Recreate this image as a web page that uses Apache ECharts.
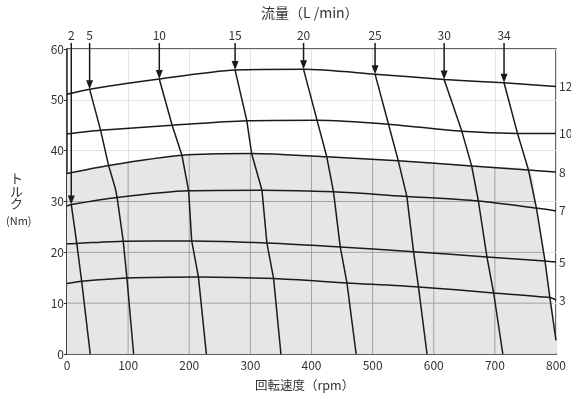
<!DOCTYPE html>
<html>
<head>
<meta charset="utf-8">
<script src="https://cdn.jsdelivr.net/npm/echarts@6/dist/echarts.min.js"></script>
<style>
  html, body { margin: 0; padding: 0; background: #fff; }
  #chart { width: 571px; height: 400px; }
</style>
</head>
<body>
<div id="chart"></div>
<script>
// Torque (Nm) vs. speed (rpm) for each pressure line
const p12 = [[0,51.1],[37,52.1],[151,54.1],[275,55.85],[387,56.0],[504,55.05],[617,54.0],[715,53.35],[800,52.6]];
const p10 = [[0,43.3],[55,44.0],[172,45.0],[294,45.9],[409,46.0],[526,45.2],[646,43.8],[737,43.4],[800,43.4]];
const p8  = [[0,35.5],[68,37.1],[188,39.1],[302,39.45],[425,38.8],[542,38.0],[662,37.0],[755,36.2],[800,35.8]];
const p7  = [[0,29.1],[7,29.4],[82,30.8],[199,32.1],[319,32.2],[436,31.9],[556,31.0],[673,30.1],[768,28.7],[800,28.15]];
const p5  = [[0,21.7],[16,21.75],[92,22.2],[204,22.25],[327,21.85],[447,21.06],[567,20.1],[687,19.1],[782,18.3],[800,18.1]];
const p3  = [[0,13.85],[24,14.3],[98,14.96],[215,15.16],[338,14.84],[458,13.98],[575,13.2],[698,12.0],[790,11.1],[800,10.6]];
const pressureLabels = ['12', '10', '8', '7', '5', '3'];

// Constant-flow lines, from the top pressure line down to zero torque
const f2  = [[7,29.4],[16,21.75],[24,14.3],[38,0]];
const f5  = [[37,52.1],[55,44.0],[68,37.1],[79,32.6],[82,30.8],[92,22.2],[98,14.96],[109,0]];
const f10 = [[151,54.1],[172,45.0],[188,39.1],[199,32.1],[204,22.25],[215,15.16],[228,0]];
const f15 = [[275,55.85],[294,46.0],[302,39.45],[319,32.2],[327,21.85],[338,14.84],[350,0]];
const f20 = [[387,56.0],[409,46.0],[425,38.8],[436,31.9],[447,21.06],[458,14.0],[473,0]];
const f25 = [[504,55.05],[526,45.2],[542,38.0],[556,31.0],[567,20.1],[575,13.2],[589,0]];
const f30 = [[617,54.0],[646,43.8],[662,37.0],[673,30.1],[687,19.1],[698,12.0],[713,0]];
const f34 = [[715,53.35],[737,43.4],[755,36.2],[768,28.7],[782,18.3],[790,11.1],[800,2.7]];
const flowLabels = ['2', '5', '10', '15', '20', '25', '30', '34'];

const xTicks = [0, 100, 200, 300, 400, 500, 600, 700, 800];
const yTicks = [0, 10, 20, 30, 40, 50, 60];

const FONT = '"Noto Sans CJK JP", "Noto Sans", sans-serif';
const INK = '#1a1a1a';

const pressures = [p12, p10, p8, p7, p5, p3];
const flows = [f2, f5, f10, f15, f20, f25, f30, f34];

// Shaded operating region: under the 8 line, left of the 34 flow line
const cornerX = f34.find(p => p[1] <= p8[p8.length - 1][1] + 1)[0];
const region = p8.filter(p => p[0] <= cornerX).concat(f34.filter(p => p[0] > cornerX));

function yAt(pts, x) {
  for (let i = 0; i < pts.length - 1; i++) {
    const a = pts[i], b = pts[i + 1];
    if (x >= a[0] && x <= b[0]) return a[1] + (b[1] - a[1]) * (x - a[0]) / (b[0] - a[0]);
  }
  return pts[pts.length - 1][1];
}
function xAt(pts, y) {
  for (let i = 0; i < pts.length - 1; i++) {
    const a = pts[i], b = pts[i + 1];
    if ((y <= a[1] && y >= b[1]) || (y >= a[1] && y <= b[1])) return a[0] + (b[0] - a[0]) * (y - a[1]) / (b[1] - a[1]);
  }
  return pts[pts.length - 1][0];
}

// Grid segments lying inside the shaded region (drawn darker)
const innerGrid = [];
xTicks.slice(1, -1).forEach(x => { if (x <= cornerX) innerGrid.push([x, 0, x, yAt(region, x)]); });
yTicks.slice(1, -1).forEach(y => { if (y < yAt(region, 0)) innerGrid.push([0, y, xAt(region.filter(p => p[0] >= cornerX - 1), y), y]); });

// Arrow tips: first point of each flow line, with its label
const arrowData = flows.map((f, i) => [f[0][0], f[0][1], flowLabels[i]]);

const series = [];

series.push({
  type: 'line', data: region, symbol: 'none', silent: true, z: 1, smooth: 0.25,
  lineStyle: { width: 0 }, areaStyle: { color: '#e5e6e8', opacity: 1 }
});

series.push({
  type: 'custom', z: 2, silent: true, data: innerGrid,
  renderItem: function (params, api) {
    const a = api.coord([api.value(0), api.value(1)]);
    const b = api.coord([api.value(2), api.value(3)]);
    return { type: 'line', shape: { x1: a[0], y1: a[1], x2: b[0], y2: b[1] }, style: { stroke: '#a2a2a2', lineWidth: 1 } };
  }
});

pressures.forEach((p, i) => {
  series.push({
    type: 'line', data: p, symbol: 'none', smooth: 0.25, z: 3,
    lineStyle: { color: INK, width: 1.5 },
    endLabel: { show: true, formatter: pressureLabels[i], distance: 3, color: '#333', fontSize: 12, fontFamily: FONT }
  });
});

flows.forEach(f => {
  series.push({
    type: 'line', data: f, symbol: 'none', z: 3,
    lineStyle: { color: INK, width: 1.5 }
  });
});

series.push({
  type: 'custom', z: 4, silent: true, clip: false,
  data: arrowData,
  renderItem: function (params, api) {
    const tip = api.coord([api.value(0), api.value(1)]);
    const top = params.coordSys.y - 6;
    const head = 9, half = 3.5;
    return {
      type: 'group',
      children: [
        { type: 'line', shape: { x1: tip[0], y1: top, x2: tip[0], y2: tip[1] - head + 1 }, style: { stroke: INK, lineWidth: 1.5 } },
        { type: 'polygon', shape: { points: [[tip[0] - half, tip[1] - head], [tip[0] + half, tip[1] - head], [tip[0], tip[1]]] }, style: { fill: INK } },
        { type: 'text', x: tip[0], y: top - 8, style: { text: api.value(2), fill: '#333', font: '12px ' + FONT, align: 'center', verticalAlign: 'middle' } }
      ]
    };
  }
});

const chart = echarts.init(document.getElementById('chart'), null, { renderer: 'canvas' });
chart.setOption({
  animation: false,
  backgroundColor: '#fff',
  textStyle: { fontFamily: FONT },
  grid: { left: 67, right: 15, top: 49, bottom: 46, show: true, borderColor: '#333', borderWidth: 1.5, backgroundColor: 'transparent' },
  xAxis: {
    type: 'value', min: 0, max: 800, interval: 100,
    axisLine: { show: true, lineStyle: { color: '#333', width: 1.5 } },
    axisTick: { show: false },
    axisLabel: { color: '#333', fontSize: 12, margin: 5, fontFamily: FONT },
    splitLine: { show: true, lineStyle: { color: '#e2e2e2', width: 1 } }
  },
  yAxis: {
    type: 'value', min: 0, max: 60, interval: 10,
    axisLine: { show: true, lineStyle: { color: '#333', width: 1.5 } },
    axisTick: { show: true, length: 3, lineStyle: { color: '#333' } },
    axisLabel: { color: '#333', fontSize: 12, margin: 3, fontFamily: FONT },
    splitLine: { show: true, lineStyle: { color: '#e2e2e2', width: 1 } }
  },
  graphic: [
    { type: 'text', left: 261, top: 6, style: { text: '流量（L /min）', fill: '#333', font: '14px ' + FONT } },
    { type: 'text', left: 255, top: 379, style: { text: '回転速度（rpm）', fill: '#333', font: '12.5px ' + FONT } },
    { type: 'text', left: 10, top: 172, style: { text: 'ト\nル\nク', fill: '#333', font: '13px ' + FONT, lineHeight: 12.5, align: 'center' } },
    { type: 'text', left: 6, top: 215, style: { text: '(Nm)', fill: '#333', font: '11px ' + FONT } }
  ],
  series: series
});
</script>
</body>
</html>
